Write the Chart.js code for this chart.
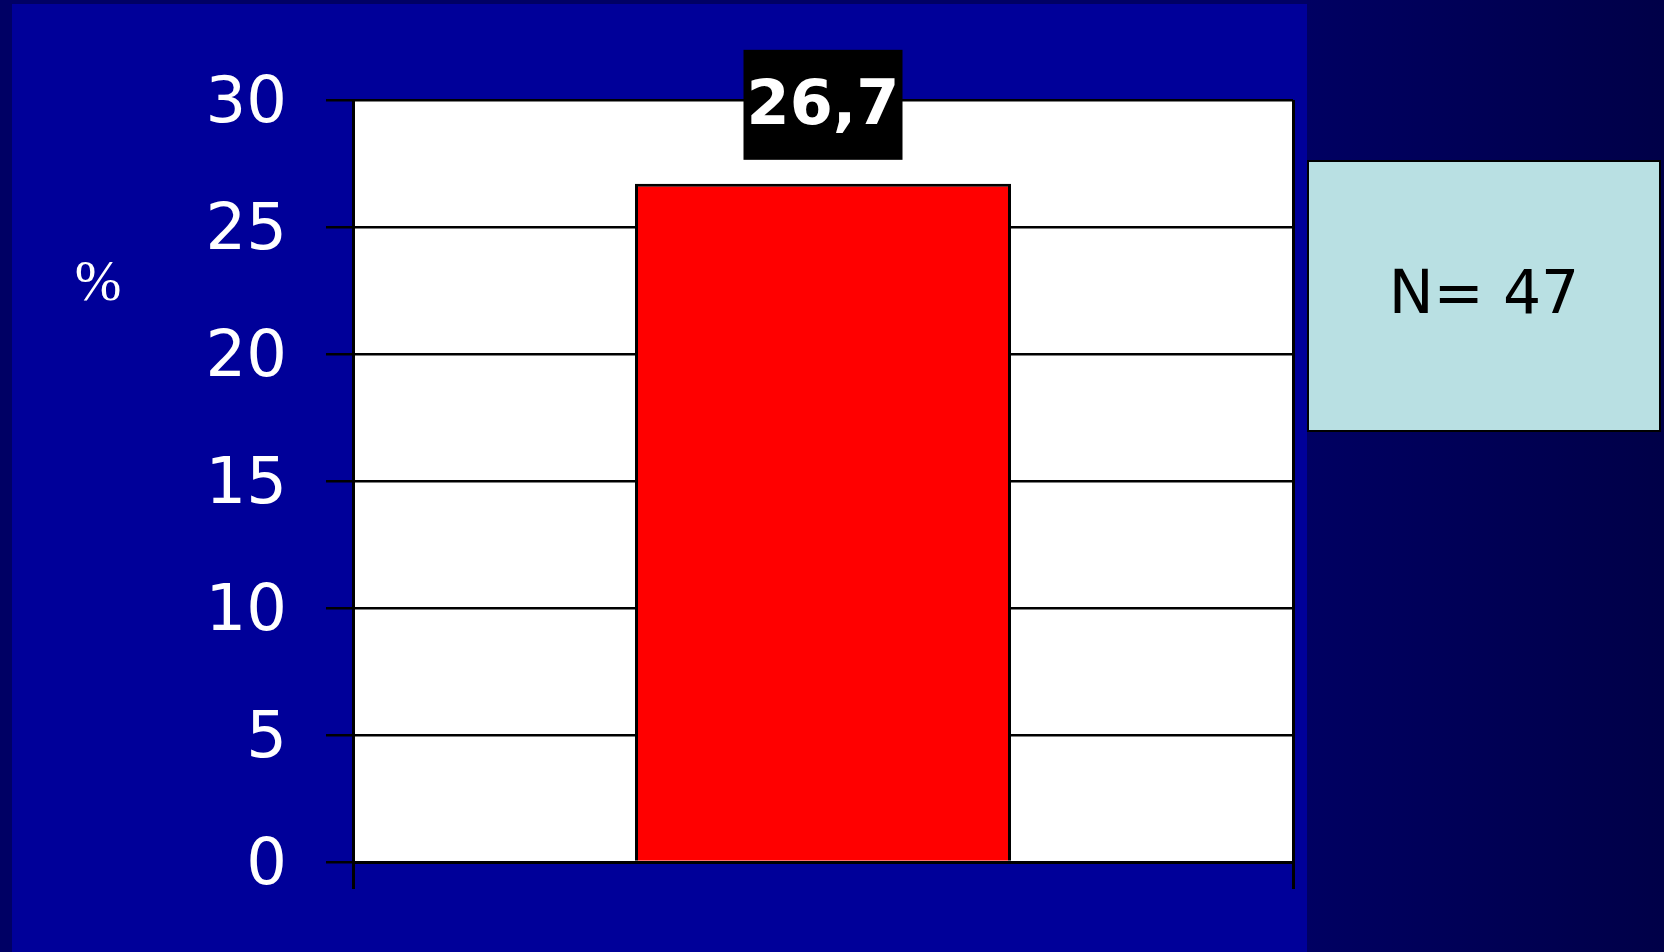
<!DOCTYPE html>
<html>
<head>
<meta charset="utf-8">
<script src="https://cdn.jsdelivr.net/npm/chart.js@4.4.0/dist/chart.umd.min.js"></script>
<style>
  html, body { margin: 0; padding: 0; background: #000066; }
  #wrap { width: 1664px; height: 952px; }
</style>
</head>
<body>
<div id="wrap"><canvas id="c" width="1664" height="952"></canvas></div>
<script>
const categories = [""];
const values = [26.7];
const yTicks = [0, 5, 10, 15, 20, 25, 30];
const axisUnit = "%";
const noteText = "N= 47";

const fmt = v => String(v).replace(".", ",");

const decor = {
  id: "decor",
  beforeDraw(chart) {
    const ctx = chart.ctx;
    const W = chart.width, H = chart.height;
    ctx.save();
    ctx.fillStyle = "#000064";
    ctx.fillRect(0, 0, W, H);
    const g = ctx.createLinearGradient(1307, 0, W, 0);
    g.addColorStop(0, "#000062");
    g.addColorStop(1, "#000048");
    ctx.fillStyle = g;
    ctx.fillRect(1307, 0, W - 1307, H);
    ctx.fillStyle = "#000099";
    ctx.fillRect(12, 4, 1307 - 12, H - 4);
    const a = chart.chartArea;
    ctx.fillStyle = "#ffffff";
    ctx.fillRect(a.left, a.top, a.right - a.left, a.bottom - a.top);
    ctx.restore();
  },
  afterDraw(chart) {
    const ctx = chart.ctx;
    ctx.save();
    const meta = chart.getDatasetMeta(0);
    meta.data.forEach((el, i) => {
      const txt = fmt(values[i]);
      ctx.font = "bold 62px 'DejaVu Sans'";
      const w = ctx.measureText(txt).width;
      const bw = Math.max(159, w + 4), bh = 110;
      const cx = el.x, bottom = el.y - 24;
      ctx.fillStyle = "#000000";
      ctx.fillRect(cx - bw / 2, bottom - bh, bw, bh);
      ctx.fillStyle = "#ffffff";
      ctx.textAlign = "center";
      ctx.textBaseline = "middle";
      ctx.fillText(txt, cx, bottom - bh / 2 + 3);
    });
    ctx.fillStyle = "#ffffff";
    ctx.font = "56px 'Liberation Serif'";
    ctx.textAlign = "center";
    ctx.textBaseline = "middle";
    ctx.fillText(axisUnit, 98, 285);
    ctx.fillStyle = "#b9e0e3";
    ctx.fillRect(1308, 161, 352, 270);
    ctx.strokeStyle = "#000000";
    ctx.lineWidth = 2;
    ctx.strokeRect(1308, 161, 352, 270);
    ctx.fillStyle = "#000000";
    ctx.font = "60px 'DejaVu Sans'";
    ctx.fillText(noteText, 1484, 297);
    ctx.restore();
  }
};

new Chart(document.getElementById("c"), {
  type: "bar",
  data: {
    labels: categories,
    datasets: [{
      data: values,
      backgroundColor: "#ff0000",
      borderColor: "#000000",
      borderWidth: 3,
      barPercentage: 0.4,
      categoryPercentage: 1.0
    }]
  },
  options: {
    responsive: false,
    animation: false,
    layout: { padding: { left: 0, top: 100, right: 371, bottom: 0 } },
    plugins: { legend: { display: false }, tooltip: { enabled: false } },
    scales: {
      x: {
        offset: true,
        grid: { display: true, offset: true, color: "#000000", lineWidth: 3, tickLength: 27, drawOnChartArea: true },
        border: { display: true, color: "#000000", width: 3 },
        ticks: { display: false },
        afterFit: s => { s.height = 90; }
      },
      y: {
        min: 0, max: 30,
        afterBuildTicks: s => { s.ticks = yTicks.map(v => ({ value: v })); },
        grid: { color: "#000000", lineWidth: 2.5, tickLength: 27 },
        border: { display: true, color: "#000000", width: 3 },
        ticks: {
          color: "#ffffff",
          font: { family: "'DejaVu Sans'", size: 64, lineHeight: 0.16 },
          padding: 39,
          callback: v => ["", String(v)]
        },
        afterFit: s => { s.width = 353; }
      }
    }
  },
  plugins: [decor]
});
</script>
</body>
</html>
